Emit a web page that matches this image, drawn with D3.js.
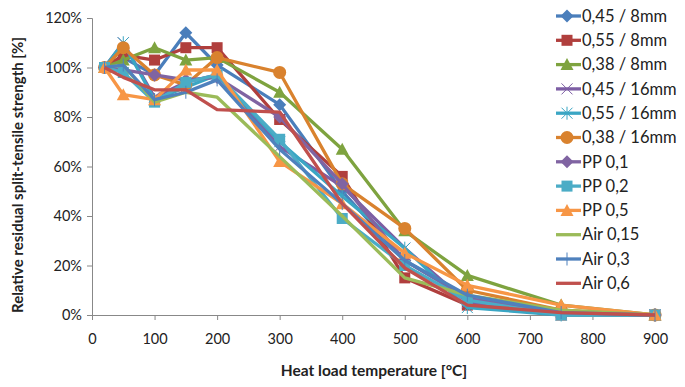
<!DOCTYPE html>
<html><head><meta charset="utf-8">
<script src="https://cdn.jsdelivr.net/npm/d3@7/dist/d3.min.js"></script>
<style>
html,body{margin:0;padding:0;background:#fff;}
svg text{font-family:Lato,"Open Sans",sans-serif;fill:#222;}
</style></head><body>
<svg id="c" width="685" height="387"></svg>
<script>
const temps = [20, 50, 100, 150, 200, 300, 400, 500, 600, 750, 900];
const seriesNames = ["0,45 / 8mm","0,55 / 8mm","0,38 / 8mm","0,45 / 16mm","0,55 / 16mm","0,38 / 16mm","PP 0,1","PP 0,2","PP 0,5","Air 0,15","Air 0,3","Air 0,6"];
const s_045_8  = [100,104, 97,114,101, 85, 50, 22,  7, 1, 0];
const s_055_8  = [100,105,103,108,108, 79, 56, 15,  4, 0, 0];
const s_038_8  = [100,103,108,103,104, 90, 67, 34, 16, 4, 0];
const s_045_16 = [100,110, 88, 94, 97, 68, 52, 27,  5, 1, 0];
const s_055_16 = [100,110, 87, 92, 97, 70, 48, 27,  3, 0, 0];
const s_038_16 = [100,108, 97, 93,104, 98, 53, 35, 10, 2, 0];
const s_pp01   = [100, 99, 97, 95, 96, 80, 53, 22,  7, 1, 0];
const s_pp02   = [100, 98, 86, 94, 97, 71, 39, 20,  6, 0, 0];
const s_pp05   = [100, 89, 87, 99, 99, 62, 45, 25, 12, 4, 0];
const s_air015 = [100,101, 86, 90, 88, 64, 40, 15,  8, 2, 0];
const s_air03  = [100,101, 87, 90, 95, 67, 45, 22,  8, 1, 0];
const s_air06  = [100, 96, 91, 91, 83, 82, 45, 19,  4, 1, 0];
const seriesValues = [s_045_8,s_055_8,s_038_8,s_045_16,s_055_16,s_038_16,s_pp01,s_pp02,s_pp05,s_air015,s_air03,s_air06];
const xTicks = [0,100,200,300,400,500,600,700,800,900];
const yTicks = [0,20,40,60,80,100,120];

const colors = ["#4A7EBB","#B03F3D","#7EA33F","#7D5EA4","#3AA6C4","#D9822E","#8064A2","#4BACC6","#F79646","#9BBB59","#4F81BD","#C0504D"];
const markers = ["diamond","square","triangle","x","star","circle","diamond","square","triangle","none","plus","none"];

const svg = d3.select("#c");
const x = d3.scaleLinear().domain([0,900]).range([92,655]);
const y = d3.scaleLinear().domain([0,120]).range([315,18]);

const xAxis = svg.append("g").attr("transform","translate(0,315)")
  .call(d3.axisBottom(x).tickValues(xTicks).tickSize(5).tickPadding(11));
const yAxis = svg.append("g").attr("transform","translate(92,0)")
  .call(d3.axisLeft(y).tickValues(yTicks).tickSize(5).tickPadding(5).tickFormat(d=>d+"%"));
[xAxis,yAxis].forEach(a=>{
  a.select(".domain").attr("stroke","#888").attr("stroke-width",1);
  a.selectAll(".tick line").attr("stroke","#888");
  a.selectAll(".tick text").attr("font-size",14.5).attr("fill","#222");
});
xAxis.selectAll(".tick text").attr("dy","0.9em");

svg.append("text").attr("x",374).attr("y",376).attr("text-anchor","middle")
  .attr("font-size",15.5).attr("font-weight","bold").text("Heat load temperature [°C]");
svg.append("text").attr("transform","translate(23,175) rotate(-90)").attr("text-anchor","middle")
  .attr("font-size",15).attr("font-weight","bold").text("Relative residual split-tensile strength [%]");

function drawMarker(g, type, cx, cy, col){
  const s = 5.5;
  if(type==="diamond") g.append("path").attr("d",`M${cx},${cy-s-1}L${cx+s+1},${cy}L${cx},${cy+s+1}L${cx-s-1},${cy}Z`).attr("fill",col);
  else if(type==="square") g.append("rect").attr("x",cx-s).attr("y",cy-s).attr("width",2*s).attr("height",2*s).attr("fill",col);
  else if(type==="triangle") g.append("path").attr("d",`M${cx},${cy-s-1}L${cx+s+1},${cy+s}L${cx-s-1},${cy+s}Z`).attr("fill",col);
  else if(type==="circle") g.append("circle").attr("cx",cx).attr("cy",cy).attr("r",s+1).attr("fill",col);
  else if(type==="x") g.append("path").attr("d",`M${cx-s},${cy-s}L${cx+s},${cy+s}M${cx-s},${cy+s}L${cx+s},${cy-s}`).attr("stroke",col).attr("stroke-width",1);
  else if(type==="star") g.append("path").attr("d",`M${cx-s},${cy-s}L${cx+s},${cy+s}M${cx-s},${cy+s}L${cx+s},${cy-s}M${cx},${cy-s-1}L${cx},${cy+s+1}`).attr("stroke",col).attr("stroke-width",1);
  else if(type==="plus") g.append("path").attr("d",`M${cx},${cy-s-1}L${cx},${cy+s+1}`).attr("stroke",col).attr("stroke-width",1);
}

const line = d3.line().x((d,i)=>x(temps[i])).y(d=>y(d));
seriesValues.forEach((vals,k)=>{
  const g = svg.append("g");
  g.append("path").attr("d",line(vals)).attr("fill","none").attr("stroke",colors[k])
    .attr("stroke-width",3.3).attr("stroke-linejoin","round");
  vals.forEach((v,i)=>drawMarker(g,markers[k],x(temps[i]),y(v),colors[k]));
});

const lg = svg.append("g");
seriesNames.forEach((n,k)=>{
  const ly = 16 + k*24.3;
  lg.append("line").attr("x1",556).attr("x2",581).attr("y1",ly).attr("y2",ly)
    .attr("stroke",colors[k]).attr("stroke-width",3.3);
  drawMarker(lg,markers[k],567,ly,colors[k]);
  lg.append("text").attr("x",582).attr("y",ly).attr("dy","0.35em").attr("font-size",16.5).text(n);
});
</script></body></html>
